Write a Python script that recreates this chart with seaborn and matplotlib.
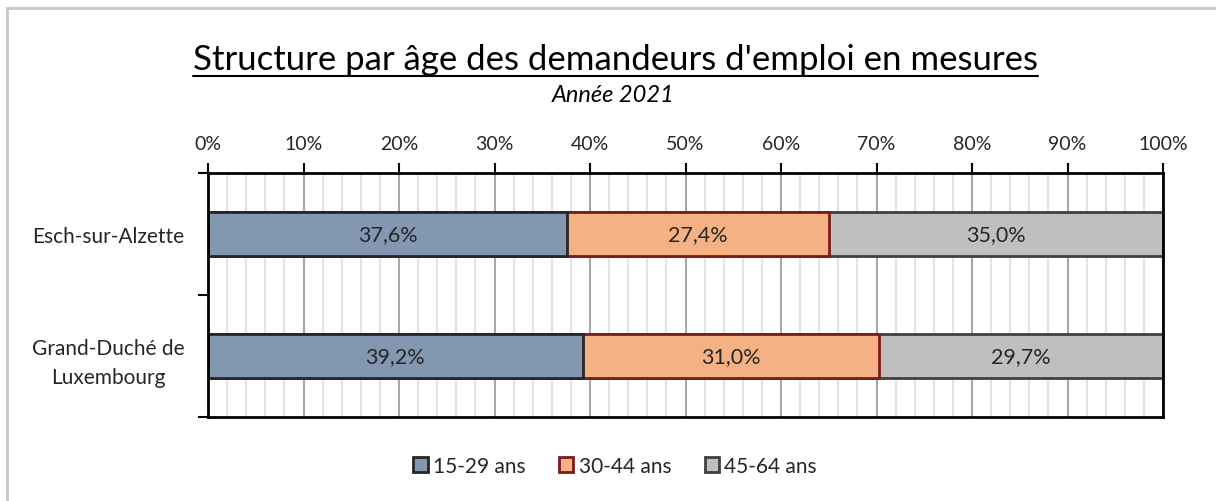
import matplotlib
matplotlib.use("Agg")
import matplotlib.pyplot as plt
import seaborn as sns
import pandas as pd
import numpy as np
from matplotlib.patches import Patch, Rectangle
from matplotlib.lines import Line2D
from matplotlib.ticker import MultipleLocator, FuncFormatter, FixedLocator

regions = ["Esch-sur-Alzette", "Grand-Duché de\nLuxembourg"]
groups = ["15-29 ans", "30-44 ans", "45-64 ans"]
age_15_29 = [37.6, 39.2]
age_30_44 = [27.4, 31.0]
age_45_64 = [35.0, 29.7]

colors = ["#8497b0", "#f4b183", "#bfbfbf"]
edges = ["#262626", "#7b1c1c", "#404040"]

sns.set_style("white")
plt.rcParams["font.family"] = ["Lato", "DejaVu Sans"]

vals = np.array([age_15_29, age_30_44, age_45_64])
shares = vals / vals.sum(axis=0) * 100
cum = np.cumsum(shares, axis=0)

fig = plt.figure(figsize=(12.16, 5.02), dpi=100)
ax = fig.add_axes([208 / 1216, 1 - 418 / 502, 955 / 1216, 244 / 502])

# stacked bars: draw cumulative totals, largest first
for i in [2, 1, 0]:
    df = pd.DataFrame({"region": regions, "value": cum[i]})
    sns.barplot(data=df, x="value", y="region", orient="h", color=colors[i],
                edgecolor=edges[i], linewidth=2, width=0.36, saturation=1,
                ax=ax, zorder=3)

ax.set_xlim(0, 100)
ax.set_ylim(1.5, -0.5)
ax.set_xlabel("")
ax.set_ylabel("")

# labels
for i in range(3):
    for j in range(2):
        start = cum[i][j] - shares[i][j]
        ax.text(start + shares[i][j] / 2, j, f"{vals[i][j]:.1f}%".replace(".", ","),
                ha="center", va="center", fontsize=15.5, color="#262626", zorder=5)

ax.xaxis.tick_top()
ax.xaxis.set_major_locator(MultipleLocator(10))
ax.xaxis.set_minor_locator(MultipleLocator(2))
ax.xaxis.set_major_formatter(FuncFormatter(lambda v, p: f"{v:.0f}%"))
ax.tick_params(axis="x", which="major", length=7, width=1.5, color="black",
               labelsize=14, pad=8, top=True, bottom=False)
ax.tick_params(axis="x", which="minor", length=0)
ax.grid(axis="x", which="major", color="#a8a8a8", linewidth=1.5, zorder=0)
ax.grid(axis="x", which="minor", color="#e3e3e3", linewidth=1.5, zorder=0)

ax.yaxis.set_minor_locator(FixedLocator([-0.5, 0.5, 1.5]))
ax.tick_params(axis="y", which="major", length=0, labelsize=15, pad=17)
ax.tick_params(axis="y", which="minor", length=7, width=1.5, color="black", left=True)
for lab in ax.get_yticklabels():
    lab.set_ha("right")
    lab.set_multialignment("center")
    lab.set_linespacing(1.55)

for s in ax.spines.values():
    s.set_visible(True)
    s.set_color("black")
    s.set_linewidth(2)
    s.set_zorder(6)

# title and subtitle
title = fig.text(615 / 1216, 1 - 60 / 502, "Structure par âge des demandeurs d'emploi en mesures",
                 ha="center", va="center", fontsize=25, color="black")
fig.text(613 / 1216, 1 - 96 / 502, "Année 2021", ha="center", va="center",
         fontsize=17, style="italic", color="black")

fig.canvas.draw()
bb = title.get_window_extent()
fig.add_artist(Line2D([bb.x0 / 1216, bb.x1 / 1216], [(bb.y0 - 1) / 502, (bb.y0 - 1) / 502],
                      transform=fig.transFigure, color="black", linewidth=1.5))

handles = [Patch(facecolor=colors[i], edgecolor=edges[i], linewidth=2) for i in range(3)]
fig.legend(handles, groups, loc="center", bbox_to_anchor=(615 / 1216, 1 - 467 / 502),
           ncol=3, frameon=False, fontsize=15, handlelength=0.7, handleheight=0.7,
           handletextpad=0.25, columnspacing=1.6)

fig.add_artist(Rectangle((7 / 1216, -0.1), 1.2, 1 - 9 / 502 + 0.1, transform=fig.transFigure,
                         fill=False, edgecolor="#c8c8c8", linewidth=2))

fig.savefig("out.png", dpi=100)
